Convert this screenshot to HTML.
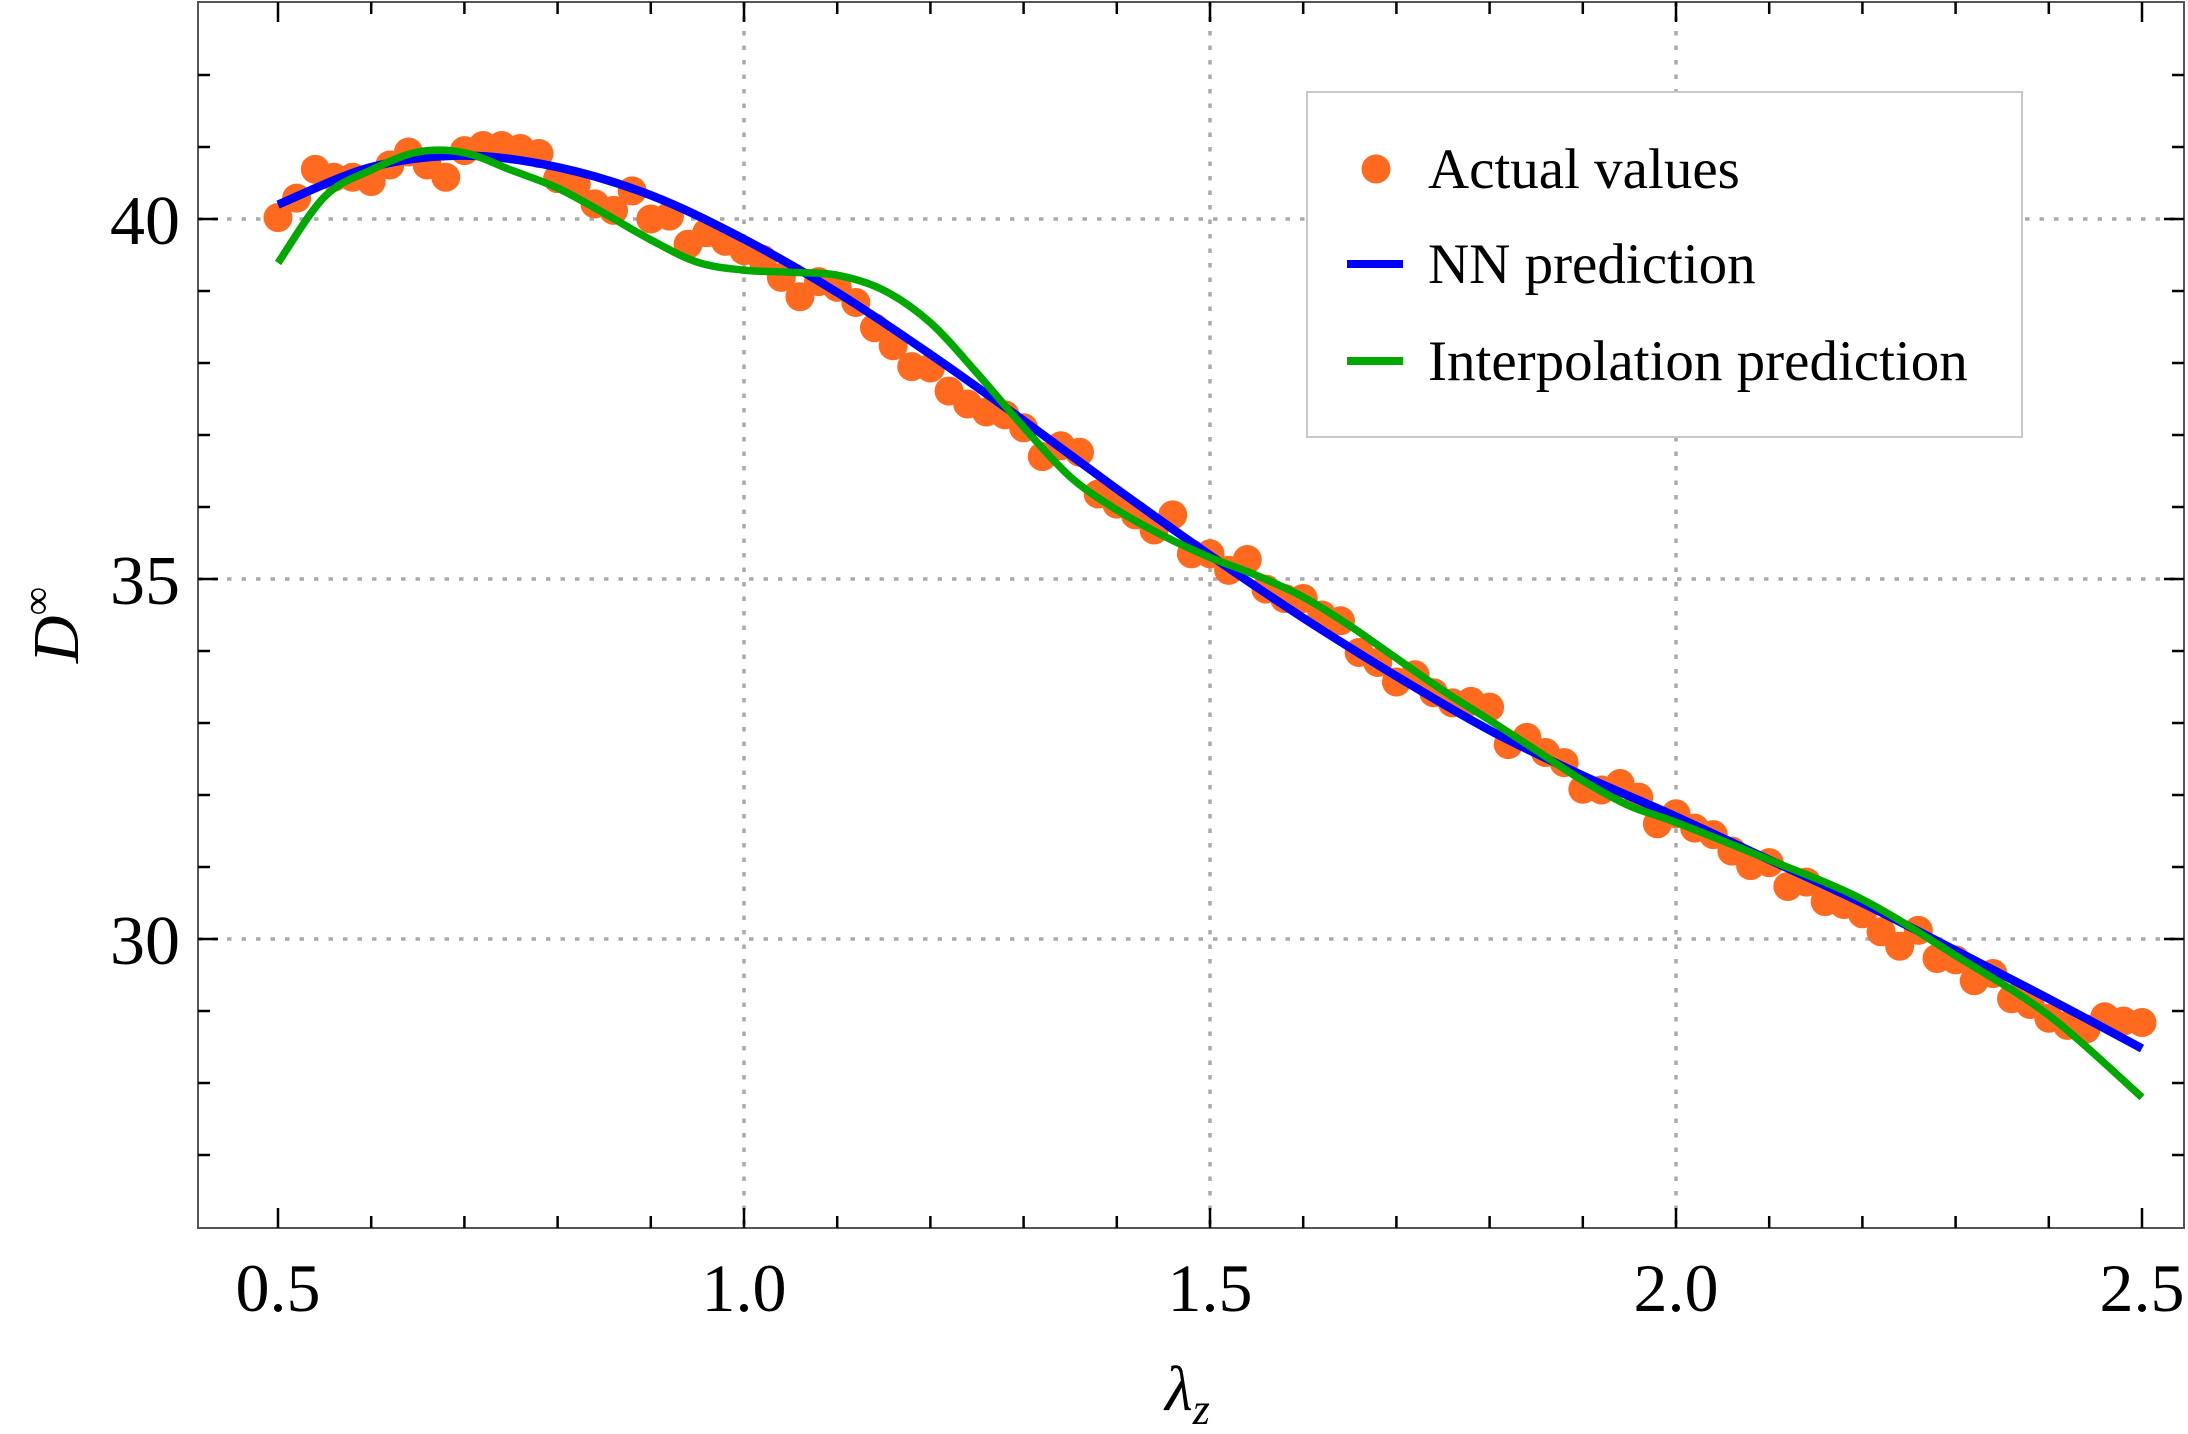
<!DOCTYPE html>
<html><head><meta charset="utf-8"><style>
html,body{margin:0;padding:0;background:#fff;}
svg{display:block;}
text{font-family:"Liberation Serif",serif;fill:#000;}
</style></head><body>
<svg id="chart" width="2188" height="1434" viewBox="0 0 2188 1434" xmlns="http://www.w3.org/2000/svg">
<g id="grid"></g>
<g id="dots"></g>
<g id="lines"></g>
<rect x="198" y="2" width="1986" height="1226" fill="none" stroke="#555" stroke-width="2"/>
<g id="ticks"></g>
<g id="labels"></g>
<text x="1165" y="1410" font-size="64" font-style="italic">λ<tspan font-size="44" dy="14">z</tspan></text>
<text transform="translate(78,625) rotate(-90)" font-size="66" font-style="italic" text-anchor="middle">D<tspan font-size="40" dy="-28" font-style="normal">∞</tspan></text>
<g>
<rect x="1307" y="92" width="715" height="345" fill="#fff" stroke="#c8c8c8" stroke-width="2"/>
<circle cx="1376" cy="169" r="14.5" fill="#ff6a1f"/>
<text x="1428" y="188" font-size="57">Actual values</text>
<line x1="1347" y1="264" x2="1403" y2="264" stroke="#0000ff" stroke-width="8"/>
<text x="1428" y="283" font-size="57">NN prediction</text>
<line x1="1347" y1="361" x2="1403" y2="361" stroke="#00a800" stroke-width="8"/>
<text x="1428" y="380" font-size="57">Interpolation prediction</text>
</g>
</svg>
<script>
const actualX = [0.50,0.52,0.54,0.56,0.58,0.60,0.62,0.64,0.66,0.68,0.70,0.72,0.74,0.76,0.78,0.80,0.82,0.84,0.86,0.88,0.90,0.92,0.94,0.96,0.98,1.00,1.02,1.04,1.06,1.08,1.10,1.12,1.14,1.16,1.18,1.20,1.22,1.24,1.26,1.28,1.30,1.32,1.34,1.36,1.38,1.40,1.42,1.44,1.46,1.48,1.50,1.52,1.54,1.56,1.58,1.60,1.62,1.64,1.66,1.68,1.70,1.72,1.74,1.76,1.78,1.80,1.82,1.84,1.86,1.88,1.90,1.92,1.94,1.96,1.98,2.00,2.02,2.04,2.06,2.08,2.10,2.12,2.14,2.16,2.18,2.20,2.22,2.24,2.26,2.28,2.30,2.32,2.34,2.36,2.38,2.40,2.42,2.44,2.46,2.48,2.50];
const actualY = [40.02,40.29,40.69,40.58,40.58,40.52,40.75,40.93,40.75,40.58,40.95,41.02,41.02,40.98,40.91,40.56,40.48,40.21,40.12,40.39,40.0,40.04,39.65,39.81,39.69,39.56,39.44,39.19,38.92,39.13,39.05,38.84,38.49,38.24,37.95,37.93,37.61,37.43,37.32,37.28,37.10,36.70,36.85,36.76,36.18,36.04,35.89,35.68,35.89,35.35,35.35,35.12,35.27,34.86,34.73,34.73,34.50,34.42,33.98,33.84,33.57,33.67,33.42,33.28,33.30,33.22,32.70,32.80,32.59,32.45,32.08,32.07,32.16,31.97,31.60,31.74,31.54,31.45,31.22,31.02,31.06,30.73,30.79,30.52,30.48,30.35,30.10,29.90,30.12,29.73,29.71,29.42,29.52,29.17,29.09,28.90,28.80,28.75,28.92,28.86,28.84];
const nnX = [0.5,0.6,0.7,0.8,0.9,1.0,1.1,1.2,1.3,1.4,1.5,1.6,1.7,1.8,1.9,2.0,2.1,2.2,2.3,2.4,2.5];
const nnY = [40.2,40.72,40.88,40.72,40.33,39.72,38.98,38.12,37.2,36.25,35.33,34.46,33.65,32.9,32.27,31.7,31.1,30.5,29.84,29.17,28.48];
const interpX = [0.5,0.55,0.6,0.65,0.7,0.75,0.8,0.85,0.9,0.95,1.0,1.05,1.1,1.15,1.2,1.25,1.3,1.35,1.4,1.45,1.5,1.55,1.6,1.65,1.7,1.75,1.8,1.85,1.9,1.95,2.0,2.1,2.2,2.3,2.4,2.5];
const interpY = [39.39,40.31,40.68,40.93,40.92,40.68,40.43,40.08,39.71,39.4,39.29,39.26,39.22,39.01,38.56,37.86,37.11,36.42,35.96,35.6,35.3,35.05,34.75,34.35,33.9,33.45,33.04,32.62,32.2,31.85,31.62,31.1,30.55,29.77,28.94,27.8];
const xTicks = [0.5,1.0,1.5,2.0,2.5];
const xTickLabels = ["0.5","1.0","1.5","2.0","2.5"];
const xGrid = [1.0,1.5,2.0];
const yTicks = [30,35,40];
const yTickLabels = ["30","35","40"];

const NS="http://www.w3.org/2000/svg";
const L=198,R=2184,T=2,B=1228;
function xs(v){return 278+(v-0.5)*932;}
function ys(v){return 219+(40-v)*72;}
function mk(tag,parent,attrs){const e=document.createElementNS(NS,tag);for(const k in attrs)e.setAttribute(k,attrs[k]);document.getElementById(parent).appendChild(e);return e;}

xGrid.forEach(v=>{
  const g=mk('line','grid',{x1:xs(v),x2:xs(v),y1:T,y2:B,stroke:'#aaa','stroke-width':3.5,'stroke-dasharray':'4.5 10'});
  
  
});
xTicks.forEach((v,i)=>{
  const t=mk('text','labels',{x:xs(v),y:1311,'font-size':68,'text-anchor':'middle'});
  t.textContent=xTickLabels[i];
  
  
});
yTicks.forEach((v,i)=>{
  const g=mk('line','grid',{x1:L,x2:R,y1:ys(v),y2:ys(v),stroke:'#aaa','stroke-width':3.5,'stroke-dasharray':'4.5 10'});
  
  
  const t=mk('text','labels',{x:180,y:ys(v)+25,'font-size':70,'text-anchor':'end'});
  t.textContent=yTickLabels[i];
  
  
});
for(let k=5;k<=25;k++){
  const v=k/10, major=(k%5===0), len=major?20:12;
  [[B,B-len],[T,T+len]].forEach(p=>{
    const e=mk('line','ticks',{x1:xs(v),x2:xs(v),y1:p[0],y2:p[1],stroke:'#000','stroke-width':2.5});
    
    
  });
}
for(let v=27;v<=42;v++){
  const major=(v%5===0), len=major?20:12;
  [[L,L+len],[R,R-len]].forEach(p=>{
    const e=mk('line','ticks',{x1:p[0],x2:p[1],y1:ys(v),y2:ys(v),stroke:'#000','stroke-width':2.5});
    
    
  });
}
actualX.forEach((v,i)=>{
  const c=mk('circle','dots',{cx:xs(v),cy:ys(actualY[i]),r:14.5,fill:'#ff6a1f'});
  
  
});
function smooth(X,Y){
  const P=X.map((x,i)=>[xs(x),ys(Y[i])]);
  let d='M'+P[0][0]+','+P[0][1];
  for(let i=0;i<P.length-1;i++){
    const p0=P[Math.max(0,i-1)],p1=P[i],p2=P[i+1],p3=P[Math.min(P.length-1,i+2)];
    const c1=[p1[0]+(p2[0]-p0[0])/6,p1[1]+(p2[1]-p0[1])/6];
    const c2=[p2[0]-(p3[0]-p1[0])/6,p2[1]-(p3[1]-p1[1])/6];
    d+=' C'+c1[0]+','+c1[1]+' '+c2[0]+','+c2[1]+' '+p2[0]+','+p2[1];
  }
  return d;
}
const nn=mk('path','lines',{d:smooth(nnX,nnY),fill:'none',stroke:'#0000ff','stroke-width':8.5});


const ip=mk('path','lines',{d:smooth(interpX,interpY),fill:'none',stroke:'#00a800','stroke-width':7.5});


</script>
</body></html>
